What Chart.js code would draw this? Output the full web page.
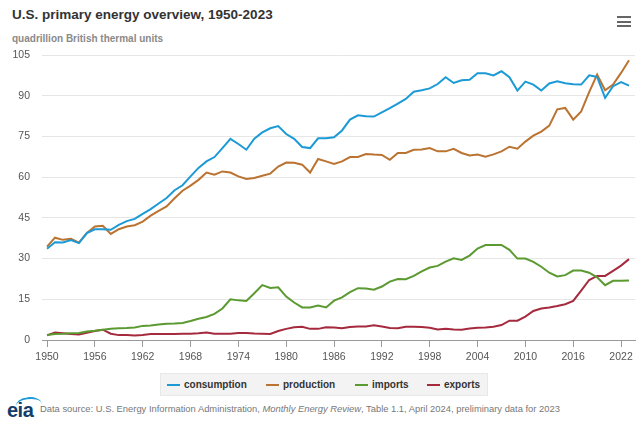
<!DOCTYPE html>
<html>
<head>
<meta charset="utf-8">
<script src="https://cdn.jsdelivr.net/npm/chart.js@4.4.1/dist/chart.umd.min.js"></script>
<style>
  html, body { margin: 0; padding: 0; background: #fff; }
  body { width: 642px; height: 425px; position: relative; overflow: hidden; font-family: "Liberation Sans", Arial, sans-serif; }
  #title { position: absolute; left: 12px; top: 7px; font-size: 13.5px; line-height: 16px; font-weight: bold; color: #333; white-space: nowrap; }
  #subtitle { position: absolute; left: 12px; top: 32px; font-size: 10px; line-height: 13px; font-weight: bold; color: #8a8a8a; white-space: nowrap; }
  #menu { position: absolute; left: 617px; top: 16px; width: 14px; }
  #menu div { height: 2px; background: #666; margin-bottom: 2.5px; }
  #wrap { position: absolute; left: 0; top: 0; width: 642px; height: 372px; }
  #legend { position: absolute; left: 160px; top: 373px; width: 328px; height: 23px; background: #f3f3f3; border: 1px solid #e8e8e8; box-sizing: border-box; }
  .item { position: absolute; top: 0; height: 21px; display: flex; align-items: center; font-size: 10px; font-weight: bold; color: #333; white-space: nowrap; }
  .mark { display: inline-block; width: 13px; height: 2px; margin-right: 4px; }
  #footer { position: absolute; left: 40px; top: 403px; font-size: 9.4px; line-height: 12px; color: #777; white-space: nowrap; }
  #logo { position: absolute; left: 6px; top: 396px; width: 36px; height: 26px; }
  #logo span { position: absolute; left: 1px; top: 3px; font-size: 20px; line-height: 22px; font-weight: bold; color: #123d6a; letter-spacing: -0.5px; }
  #logo .arc { position: absolute; left: 10px; top: 1px; width: 26px; height: 14px; border-top: 2.5px solid #1a9ad6; border-radius: 50% 60% 0 0; transform: rotate(-8deg); }
</style>
</head>
<body>
<div id="title">U.S. primary energy overview, 1950-2023</div>
<div id="subtitle">quadrillion British thermal units</div>
<div id="menu"><div></div><div></div><div></div></div>
<div id="wrap"><canvas id="c" width="642" height="372"></canvas></div>
<div id="legend"></div>
<div id="logo"><div class="arc"></div><span>eia</span></div>
<div id="footer">Data source: U.S. Energy Information Administration, <i>Monthly Energy Review</i>, Table 1.1, April 2024, preliminary data for 2023</div>
<script>
const years = [1950,1951,1952,1953,1954,1955,1956,1957,1958,1959,
  1960,1961,1962,1963,1964,1965,1966,1967,1968,1969,
  1970,1971,1972,1973,1974,1975,1976,1977,1978,1979,
  1980,1981,1982,1983,1984,1985,1986,1987,1988,1989,
  1990,1991,1992,1993,1994,1995,1996,1997,1998,1999,
  2000,2001,2002,2003,2004,2005,2006,2007,2008,2009,
  2010,2011,2012,2013,2014,2015,2016,2017,2018,2019,
  2020,2021,2022,2023];

const consumption = [33.6,36.0,35.9,36.8,35.7,39.4,40.8,40.8,40.6,42.4,
  43.8,44.6,46.5,48.2,50.3,52.3,55.2,57.0,60.3,63.4,
  65.8,67.4,70.7,74.1,72.2,70.1,74.2,76.5,78.0,78.8,
  75.9,74.1,71.1,70.7,74.3,74.3,74.7,77.2,81.2,82.8,
  82.4,82.3,83.9,85.4,87.1,88.8,91.5,92.0,92.7,94.3,
  96.8,94.7,95.7,95.9,98.3,98.3,97.5,99.0,96.8,91.9,
  95.2,94.1,91.9,94.5,95.3,94.6,94.2,94.1,97.5,96.9,
  89.2,93.5,95.0,93.7];

const production = [34.4,37.7,36.9,37.3,35.9,39.4,41.8,42.1,39.1,40.8,
  41.8,42.3,43.6,45.8,47.6,49.2,52.2,55.0,56.9,59.0,
  61.7,60.9,62.1,61.7,60.3,59.3,59.7,60.5,61.3,63.9,
  65.4,65.3,64.6,61.7,66.7,65.8,64.9,65.8,67.4,67.4,
  68.5,68.3,68.2,66.4,68.9,68.9,70.1,70.2,70.7,69.5,
  69.5,70.4,68.9,68.0,68.3,67.5,68.4,69.5,71.2,70.5,
  73.1,75.3,76.8,79.0,85.0,85.5,81.2,84.2,91.3,97.8,
  92.0,94.1,98.4,103.1];

const imports = [1.8,2.2,2.3,2.5,2.6,3.1,3.4,3.8,4.1,4.3,
  4.4,4.6,5.2,5.3,5.7,6.0,6.1,6.3,7.0,7.8,
  8.5,9.6,11.6,15.0,14.6,14.4,17.2,20.2,19.2,19.4,
  16.0,13.8,12.0,12.0,12.7,12.0,14.5,15.7,17.6,19.1,
  19.0,18.5,19.7,21.5,22.5,22.4,23.6,25.3,26.7,27.3,
  28.9,30.1,29.5,31.1,33.7,35.0,35.0,35.0,33.2,30.0,
  30.0,28.8,27.0,24.8,23.4,23.9,25.6,25.6,24.8,23.1,
  20.2,21.8,21.8,21.9];

const exports = [1.7,2.8,2.5,2.2,2.0,2.7,3.3,3.8,2.3,1.8,
  1.8,1.7,1.8,2.2,2.2,2.2,2.2,2.3,2.3,2.5,
  2.8,2.3,2.3,2.3,2.6,2.6,2.4,2.3,2.2,3.3,
  4.1,4.7,4.9,4.1,4.1,4.7,4.6,4.3,4.8,5.0,
  5.0,5.4,5.0,4.4,4.3,4.9,4.9,4.8,4.5,3.9,
  4.1,3.9,3.8,4.2,4.5,4.6,4.9,5.5,7.1,7.1,
  8.6,10.7,11.6,12.0,12.5,13.2,14.4,18.2,22.1,23.6,
  23.6,25.5,27.4,29.8];

const seriesNames = ["consumption", "production", "imports", "exports"];
const xTickLabels = [1950,1956,1962,1968,1974,1980,1986,1992,1998,2004,2010,2016,2022];
const yTickLabels = [0,15,30,45,60,75,90,105];

const colors = ["#1b9ad6", "#bb7331", "#5b9a31", "#a52a3e"];
const seriesValues = [consumption, production, imports, exports];

const datasets = seriesNames.map((name, i) => ({
  label: name,
  data: years.map((y, k) => ({ x: y, y: seriesValues[i][k] })),
  borderColor: colors[i],
  backgroundColor: colors[i],
  borderWidth: 2,
  pointRadius: 0,
  pointHoverRadius: 0,
  tension: 0,
  fill: false
}));

new Chart(document.getElementById("c"), {
  type: "line",
  data: { datasets },
  options: {
    responsive: false,
    animation: false,
    devicePixelRatio: 1,
    layout: { padding: { top: 55, left: 12, right: 7, bottom: 4 } },
    plugins: { legend: { display: false }, title: { display: false }, tooltip: { enabled: false } },
    scales: {
      x: {
        type: "linear",
        min: 1949.37,
        max: 2023.75,
        afterBuildTicks: s => { s.ticks = xTickLabels.map(v => ({ value: v })); },
        afterFit: s => { s.height = 28; },
        grid: { display: true, drawOnChartArea: false, drawTicks: true, tickLength: 7, color: "#999", lineWidth: 1 },
        border: { display: true, color: "#999", width: 1 },
        ticks: { autoSkip: false, maxRotation: 0, padding: 4, color: "#555",
          font: { family: "Liberation Sans", size: 10.5 },
          callback: v => String(v) }
      },
      y: {
        min: 0,
        max: 105,
        afterBuildTicks: s => { s.ticks = yTickLabels.map(v => ({ value: v })); },
        afterFit: s => { s.width = 30; },
        grid: { color: "#e6e6e6", drawTicks: false, lineWidth: 1 },
        border: { display: false },
        ticks: { padding: 12, color: "#555", font: { family: "Liberation Sans", size: 10.5 } }
      }
    }
  }
});

// HTML legend built from the datasets
const legendLefts = [6, 105, 194, 266];
const lg = document.getElementById("legend");
seriesNames.forEach((name, i) => {
  const it = document.createElement("div");
  it.className = "item";
  it.style.left = legendLefts[i] + "px";
  const m = document.createElement("span");
  m.className = "mark";
  m.style.background = colors[i];
  it.appendChild(m);
  it.appendChild(document.createTextNode(name));
  lg.appendChild(it);
});
</script>
</body>
</html>
